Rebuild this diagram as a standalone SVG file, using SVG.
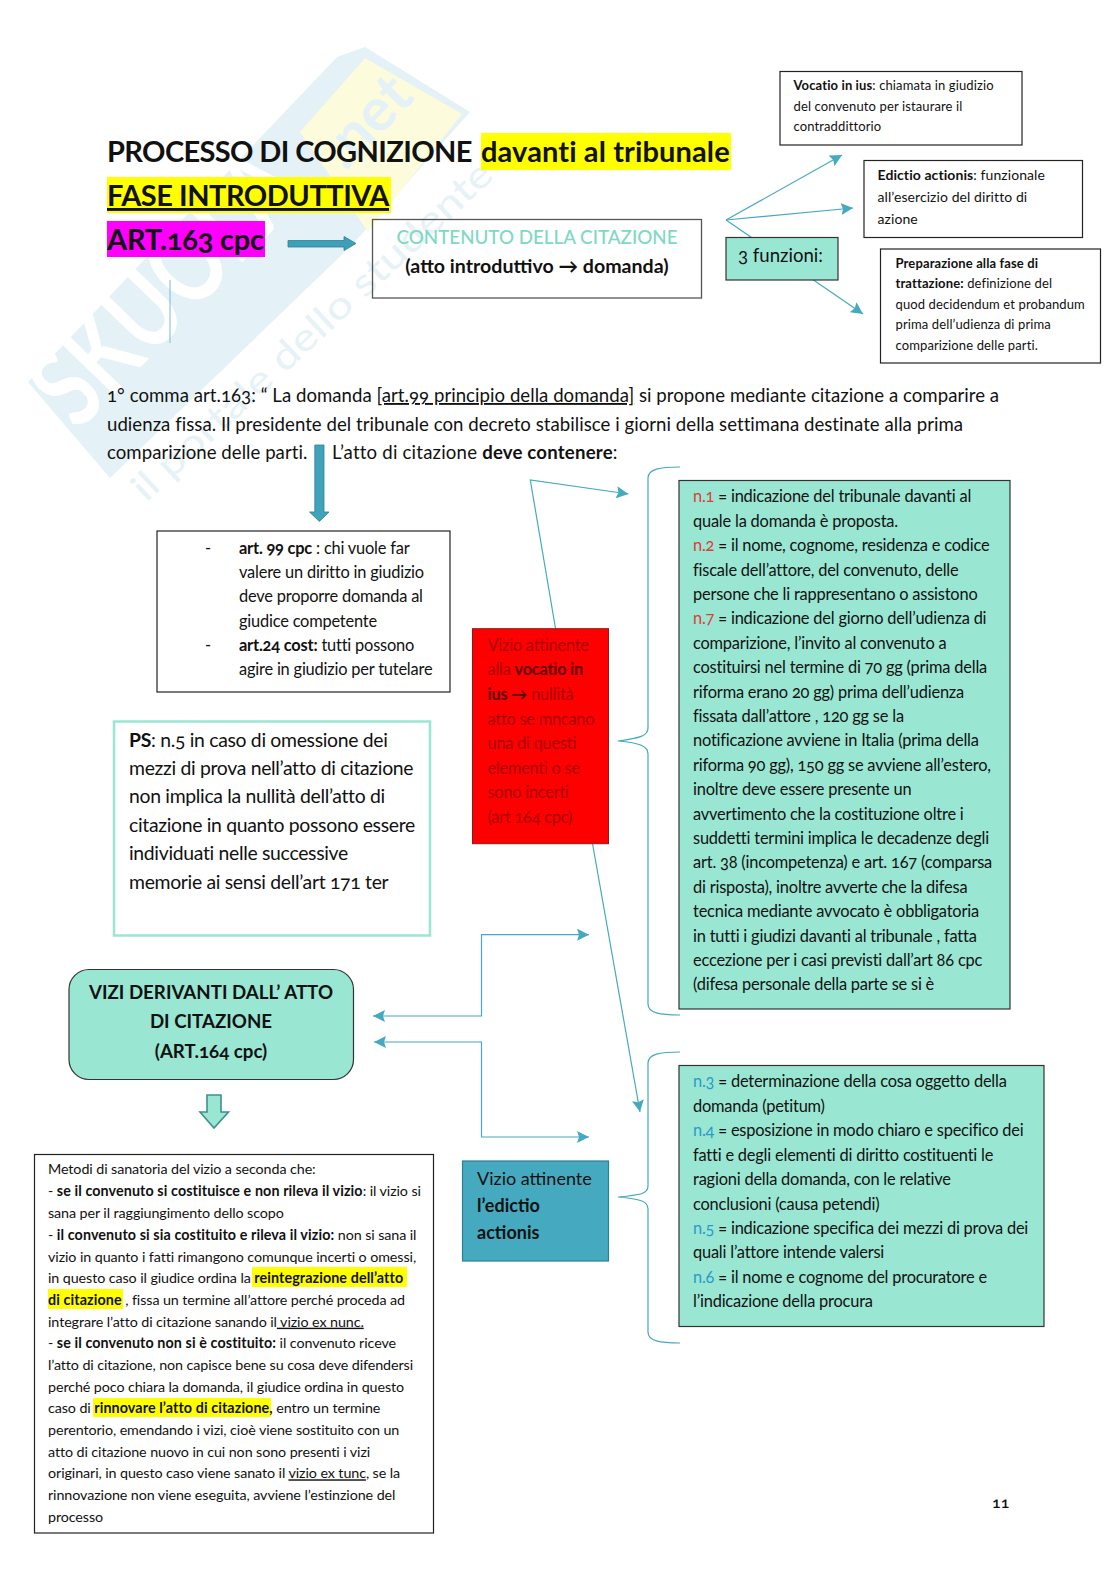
<svg xmlns="http://www.w3.org/2000/svg" width="1116" height="1579" viewBox="0 0 1116 1579">
<defs>
<marker id="ah" markerUnits="userSpaceOnUse" markerWidth="13" markerHeight="12" refX="12" refY="6" orient="auto-start-reverse"><path d="M0 0L12 6L0 12L2 6Z" fill="#45A9C1"/></marker>
</defs>
<style>
text{font-family:"Lato","Open Sans","Liberation Sans",sans-serif;font-feature-settings:"onum";fill:#111}
.b{font-weight:700}
.t{font-size:29px;font-weight:700;letter-spacing:-.5px}
.body{font-size:18.6px;letter-spacing:.04px}
.g{font-size:16.4px;letter-spacing:-.2px}
.m{font-size:14.3px;letter-spacing:-.09px}
.m .b{letter-spacing:.1px}
.s13{font-size:13px;letter-spacing:.12px}
.s14{font-size:14px;letter-spacing:.08px}
.ps{font-size:19.4px;letter-spacing:-.32px}
.red{font-size:16.4px;fill:#A80000;letter-spacing:-.25px}
.red tspan{fill:#600000}
.box{fill:#fff;stroke:#222;stroke-width:1.2}
.tl{fill:#99E7D2;stroke:#333;stroke-width:1.2}
.c{fill:none;stroke:#45A9C1;stroke-width:1.2}
.ar{marker-end:url(#ah)}
.nr{fill:#E03A3A}
.nb{fill:#2B9ACB}
.wm{fill:#E4F1F6}
</style>
<g id="watermark">
<path class="wm" d="M28 382L337 57L365 47L470 112L352 245L110 478Z"/>
<path d="M300 132L365 58L462 114L368 232Z" fill="#FCFCDC"/>
<text class="b" transform="translate(78 432) rotate(-46)" font-size="112" style="fill:#fff;font-feature-settings:normal" textLength="330" lengthAdjust="spacingAndGlyphs">SKUOLA</text>
<text class="b" transform="translate(345 172) rotate(-46)" font-size="60" style="fill:#E4F1F6;font-feature-settings:normal">.net</text>
<text transform="translate(146 503) rotate(-43)" font-size="38" style="fill:#E6F2F6;font-feature-settings:normal" textLength="478" lengthAdjust="spacingAndGlyphs">il portale dello studente</text>
</g>
<g id="connectors">
<path class="c ar" d="M726 220L842 155"/>
<path class="c ar" d="M726 220L853 208"/>
<path class="c ar" d="M726 220L863 314"/>
<path d="M170 280V343" stroke="#8CC8D6" stroke-width="1.2" fill="none"/>
<path class="c ar" d="M555.6 629L530.3 480L628.4 494"/>
<path class="c ar" d="M592.6 844L640 1112"/>
<path class="c ar" marker-start="url(#ah)" d="M373 1016H481.5V934.7H589"/>
<path class="c ar" marker-start="url(#ah)" d="M374 1042H481.5V1137H589"/>
<path class="c" stroke-width="1.4" d="M680 467C660 467 648 469 648 478V728C648 736 640 738 618 741C640 743 648 746 648 754V1004C648 1013 660 1015 680 1015"/>
<path class="c" stroke-width="1.4" d="M680 1052C660 1052 648 1054 648 1063V1186C648 1194 640 1195 618 1197C640 1199 648 1201 648 1209V1332C648 1341 660 1343 680 1343"/>
<path d="M288 240.500H344V236.500L356 243.500L344 250.500V247H288Z" fill="#3E9FB8" stroke="#2E7F95" stroke-width=".8"/>
<path d="M314.800 445H324V512H329L319.400 521.500L309.500 512H314.800Z" fill="#3FA4B9" stroke="#2E7F95" stroke-width=".8"/>
<path d="M207 1095H221V1112H228.500L214 1128L200 1112H207Z" fill="#99E7D2" stroke="#3F8F8F" stroke-width="1.600"/>
</g>
<g id="title">
<rect x="481" y="133" width="250" height="37" fill="#FFFF00"/>
<rect x="107" y="177" width="284" height="36" fill="#FFFF00"/>
<rect x="107" y="221" width="158" height="36" fill="#FF00FF"/>
<text class="t" x="107" y="162" style="letter-spacing:-.62px">PROCESSO DI COGNIZIONE</text>
<text class="t" x="481" y="162" style="letter-spacing:.12px">davanti al tribunale</text>
<text class="t" x="107" y="206" text-decoration="underline" style="letter-spacing:-.48px">FASE INTRODUTTIVA</text>
<text class="t" x="107" y="250" style="letter-spacing:-.2px">ART.163 cpc</text>
</g>
<g id="contenuto">
<rect x="372.500" y="219.500" width="329" height="78.500" fill="none" stroke="#555" stroke-width="1.300"/>
<text x="537" y="244" font-size="18.800" text-anchor="middle" style="fill:#7ED9C2;font-feature-settings:normal;font-weight:500">CONTENUTO DELLA CITAZIONE</text>
<text class="b" x="537" y="273" font-size="19.600" text-anchor="middle">(atto introduttivo → domanda)</text>
</g>
<g id="funzioni">
<rect class="tl" x="726" y="237.500" width="112" height="42.500"/>
<text x="738" y="262" font-size="18.600">3 funzioni:</text>
</g>
<g id="vocatio">
<rect class="box" x="780" y="71.500" width="242" height="73.500"/>
<text class="s13" x="793.500" y="90"><tspan class="b">Vocatio in ius</tspan>: chiamata in giudizio</text>
<text class="s13" x="793.500" y="110.700">del convenuto per istaurare il</text>
<text class="s13" x="793.500" y="130.700">contraddittorio</text>
</g>
<g id="edictio">
<rect class="box" x="864" y="160.500" width="218.500" height="77"/>
<text class="s14" x="877.500" y="179.500"><tspan class="b">Edictio actionis</tspan>: funzionale</text>
<text class="s14" x="877.500" y="201.700">all’esercizio del diritto di</text>
<text class="s14" x="877.500" y="224">azione</text>
</g>
<g id="preparazione">
<rect class="box" x="880.500" y="249" width="220" height="114"/>
<text class="s13" x="895.500" y="267.700"><tspan class="b">Preparazione alla fase di</tspan></text>
<text class="s13" x="895.500" y="288"><tspan class="b">trattazione:</tspan> definizione del</text>
<text class="s13" x="895.500" y="308.700">quod decidendum et probandum</text>
<text class="s13" x="895.500" y="329">prima dell’udienza di prima</text>
<text class="s13" x="895.500" y="350">comparizione delle parti.</text>
</g>
<g id="paragrafo">
<text class="body" x="107" y="402">1° comma art.163: “ La domanda <tspan text-decoration="underline">[art.99 principio della domanda]</tspan> si propone mediante citazione a comparire a</text>
<text class="body" x="107" y="431">udienza fissa. Il presidente del tribunale con decreto stabilisce i giorni della settimana destinate alla prima</text>
<text class="body" x="107" y="459">comparizione delle parti.</text>
<text class="body" x="332" y="459" style="letter-spacing:.2px">L’atto di citazione <tspan class="b">deve contenere</tspan>:</text>
</g>
<g id="art99">
<rect class="box" x="157" y="531" width="293" height="161"/>
<text class="g" x="205" y="553.500">-</text>
<text class="g" x="239" y="553.500"><tspan class="b">art. 99 cpc</tspan> : chi vuole far</text>
<text class="g" x="239" y="577.800">valere un diritto in giudizio</text>
<text class="g" x="239" y="602.200">deve proporre domanda al</text>
<text class="g" x="239" y="626.600">giudice competente</text>
<text class="g" x="205" y="650.500">-</text>
<text class="g" x="239" y="650.500"><tspan class="b">art.24 cost:</tspan> tutti possono</text>
<text class="g" x="239" y="675">agire in giudizio per tutelare</text>
</g>
<g id="ps">
<rect x="114" y="721.500" width="316" height="214" fill="#fff" stroke="#99E7D2" stroke-width="2.500"/>
<text class="ps" x="129" y="747"><tspan class="b">PS</tspan>: n.5 in caso di omessione dei</text>
<text class="ps" x="129" y="775">mezzi di prova nell’atto di citazione</text>
<text class="ps" x="129" y="803">non implica la nullità dell’atto di</text>
<text class="ps" x="129" y="831.500">citazione in quanto possono essere</text>
<text class="ps" x="129" y="860">individuati nelle successive</text>
<text class="ps" x="129" y="888.500">memorie ai sensi dell’art 171 ter</text>
</g>
<g id="vizio-vocatio">
<rect x="472.500" y="628.700" width="136" height="215" fill="#FF0000" stroke="#8B1A1A" stroke-width="1"/>
<text class="red" x="487.500" y="651">Vizio attinente</text>
<text class="red" x="487.500" y="675">alla <tspan class="b">vocatio in</tspan></text>
<text class="red" x="487.500" y="699.500"><tspan class="b">ius →</tspan> nullità</text>
<text class="red" x="487.500" y="724.500">atto se mncano</text>
<text class="red" x="487.500" y="748.500">una di questi</text>
<text class="red" x="487.500" y="773.500">elementi o se</text>
<text class="red" x="487.500" y="797.500">sono incerti</text>
<text class="red" x="487.500" y="822.700">(art 164 cpc)</text>
</g>
<g id="elementi-vocatio">
<rect class="tl" x="679" y="480.500" width="331" height="528.500"/>
<text class="g" x="693" y="502.300"><tspan class="nr">n.1</tspan> = indicazione del tribunale davanti al</text>
<text class="g" x="693" y="526.700">quale la domanda è proposta.</text>
<text class="g" x="693" y="551.100"><tspan class="nr">n.2</tspan> = il nome, cognome, residenza e codice</text>
<text class="g" x="693" y="575.500">fiscale dell’attore, del convenuto, delle</text>
<text class="g" x="693" y="599.900">persone che li rappresentano o assistono</text>
<text class="g" x="693" y="624.300"><tspan class="nr">n.7</tspan> = indicazione del giorno dell’udienza di</text>
<text class="g" x="693" y="648.700">comparizione, l’invito al convenuto a</text>
<text class="g" x="693" y="673.100">costituirsi nel termine di 70 gg (prima della</text>
<text class="g" x="693" y="697.500">riforma erano 20 gg) prima dell’udienza</text>
<text class="g" x="693" y="721.900">fissata dall’attore , 120 gg se la</text>
<text class="g" x="693" y="746.300">notificazione avviene in Italia (prima della</text>
<text class="g" x="693" y="770.700">riforma 90 gg),  150 gg se avviene all’estero,</text>
<text class="g" x="693" y="795.100">inoltre deve essere presente un</text>
<text class="g" x="693" y="819.500">avvertimento che la costituzione oltre i</text>
<text class="g" x="693" y="843.900">suddetti termini implica le decadenze degli</text>
<text class="g" x="693" y="868.300">art. 38 (incompetenza) e art. 167 (comparsa</text>
<text class="g" x="693" y="892.700">di risposta), inoltre avverte che la difesa</text>
<text class="g" x="693" y="917.100">tecnica mediante avvocato è obbligatoria</text>
<text class="g" x="693" y="941.500">in tutti i giudizi davanti al tribunale , fatta</text>
<text class="g" x="693" y="965.900">eccezione per i casi previsti dall’art 86 cpc</text>
<text class="g" x="693" y="990.300">(difesa personale della parte se si è</text>
</g>
<g id="vizi">
<rect class="tl" x="69" y="969.500" width="284.500" height="110" rx="20"/>
<text class="b" x="211" y="998.500" font-size="18.700" text-anchor="middle">VIZI DERIVANTI DALL’ ATTO</text>
<text class="b" x="211" y="1028" font-size="18.700" text-anchor="middle">DI CITAZIONE</text>
<text class="b" x="211" y="1057.500" font-size="18.700" text-anchor="middle">(ART.164 cpc)</text>
</g>
<g id="elementi-edictio">
<rect class="tl" x="679" y="1065.500" width="365" height="261"/>
<text class="g" x="693" y="1087"><tspan class="nb">n.3</tspan> = determinazione della cosa oggetto della</text>
<text class="g" x="693" y="1111.500">domanda (petitum)</text>
<text class="g" x="693" y="1136"><tspan class="nb">n.4</tspan> = esposizione in modo chiaro e specifico dei</text>
<text class="g" x="693" y="1160.500">fatti e degli elementi di diritto costituenti le</text>
<text class="g" x="693" y="1185">ragioni della domanda, con le relative</text>
<text class="g" x="693" y="1209.500">conclusioni (causa petendi)</text>
<text class="g" x="693" y="1233.500"><tspan class="nb">n.5</tspan> = indicazione specifica dei mezzi di prova dei</text>
<text class="g" x="693" y="1258">quali l’attore intende valersi</text>
<text class="g" x="693" y="1282.500"><tspan class="nb">n.6</tspan> = il nome e cognome del procuratore e</text>
<text class="g" x="693" y="1307">l’indicazione della procura</text>
</g>
<g id="vizio-edictio">
<rect x="462.500" y="1161" width="146" height="100" fill="#45AABF" stroke="#2D7F93" stroke-width="1.200"/>
<text x="477" y="1185" font-size="18">Vizio attinente</text>
<text class="b" x="477" y="1212" font-size="18">l’edictio</text>
<text class="b" x="477" y="1239" font-size="18">actionis</text>
</g>
<g id="sanatoria">
<rect class="box" x="34.500" y="1154.500" width="399" height="378.500" stroke="#000"/>
<rect x="252" y="1267" width="155" height="20" fill="#FFFF00"/>
<rect x="48" y="1289" width="75" height="20" fill="#FFFF00"/>
<rect x="93" y="1398" width="178" height="19" fill="#FFFF00"/>
<text class="m" x="48" y="1174">Metodi di sanatoria del vizio a seconda che:</text>
<text class="m" x="48" y="1196">- <tspan class="b">se il convenuto si costituisce e non rileva il vizio</tspan>: il vizio si</text>
<text class="m" x="48" y="1218">sana per il raggiungimento dello scopo</text>
<text class="m" x="48" y="1239.500">- <tspan class="b">il convenuto si sia costituito e rileva il vizio:</tspan> non si sana il</text>
<text class="m" x="48" y="1261.500">vizio in quanto i fatti rimangono comunque incerti o omessi,</text>
<text class="m" x="48" y="1283.300">in questo caso il giudice ordina la <tspan class="b">reintegrazione dell’atto</tspan></text>
<text class="m" x="48" y="1305.300"><tspan class="b">di citazione</tspan> , fissa un termine all’attore perché proceda ad</text>
<text class="m" x="48" y="1326.700">integrare l’atto di citazione sanando il<tspan text-decoration="underline"> vizio ex nunc.</tspan></text>
<text class="m" x="48" y="1348.300">- <tspan class="b">se il convenuto non si è costituito:</tspan> il convenuto riceve</text>
<text class="m" x="48" y="1370">l’atto di citazione, non capisce bene su cosa deve difendersi</text>
<text class="m" x="48" y="1391.700">perché poco chiara la domanda, il giudice ordina in questo</text>
<text class="m" x="48" y="1413.300">caso di <tspan class="b">rinnovare l’atto di citazione,</tspan> entro un termine</text>
<text class="m" x="48" y="1435">perentorio, emendando i vizi, cioè viene sostituito con un</text>
<text class="m" x="48" y="1456.700">atto di citazione nuovo in cui non sono presenti i vizi</text>
<text class="m" x="48" y="1478.300">originari, in questo caso viene sanato il <tspan text-decoration="underline">vizio ex tunc</tspan>, se la</text>
<text class="m" x="48" y="1500">rinnovazione non viene eseguita, avviene l’estinzione del</text>
<text class="m" x="48" y="1521.700">processo</text>
</g>
<g id="pagina">
<text x="992" y="1508" font-size="16" style="font-weight:600">11</text>
</g>
</svg>
